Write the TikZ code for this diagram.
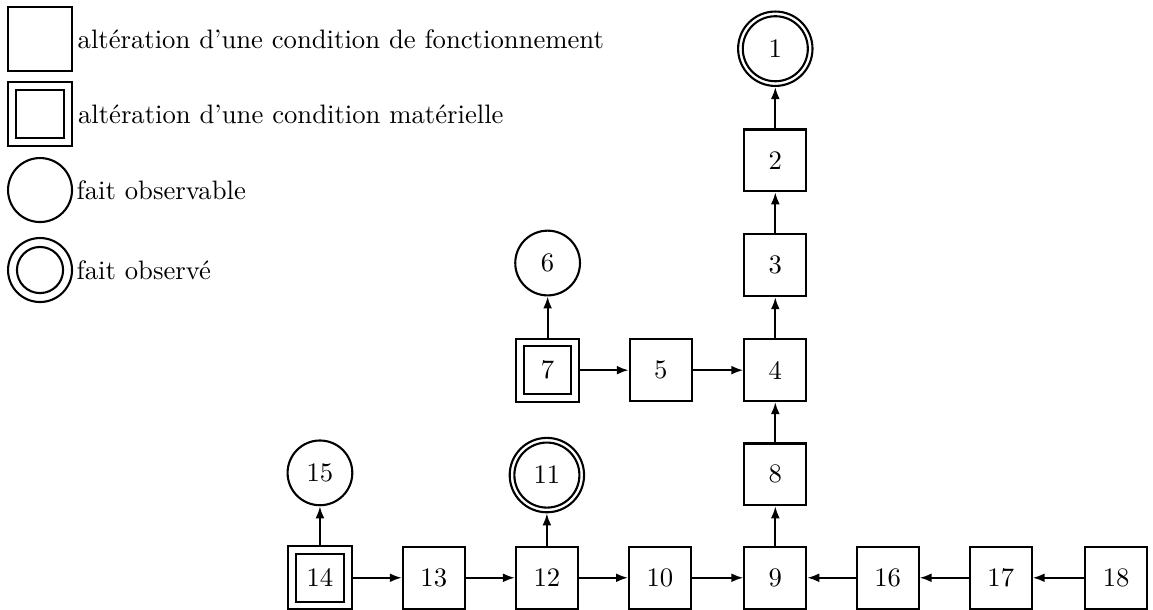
\documentclass[tikz,border=0pt]{standalone}
\usepackage{tikz}
\usetikzlibrary{positioning,arrows.meta}

\tikzset{
    >={Latex[length=4.6pt,width=3.4pt]},
    box/.style={draw, line width=0.8pt, minimum size=0.83cm, inner sep=0pt},
    matbox/.style={box, minimum size=0.85cm, path picture={
        \draw[line width=0.8pt] ([shift={(3pt,3pt)}]path picture bounding box.south west)
            rectangle ([shift={(-3pt,-3pt)}]path picture bounding box.north east);}},
    fact/.style={draw, circle, line width=0.8pt, minimum size=0.87cm, inner sep=0pt},
    seen/.style={fact, minimum size=1.0cm, path picture={
        \draw[line width=0.8pt] (path picture bounding box.center) circle (0.437cm);}},
    legtext/.style={inner sep=0pt, font=\fontsize{10.2}{12}\selectfont}
}

\begin{document}
\begin{tikzpicture}[line width=0.8pt, font=\fontsize{10.2}{12}\selectfont]
    \useasboundingbox (0,0) rectangle (15.496,8.185);

    % legend
    \node[box, minimum size=0.85cm] (lgbox) at (0.538,7.66) {};
    \node[legtext, right=1.5pt of lgbox] {altération d'une condition de fonctionnement};
    \node[matbox, minimum size=0.86cm] (lgmat) at (0.538,6.653) {};
    \node[legtext, right=1.5pt of lgmat] {altération d'une condition matérielle};
    \node[fact, minimum size=0.86cm] (lgfact) at (0.538,5.631) {};
    \node[legtext, right=1pt of lgfact] {fait observable};
    \node[fact, minimum size=0.86cm, path picture={
        \draw[line width=0.8pt] (path picture bounding box.center) circle (0.31cm);}] (lgseen) at (0.538,4.556) {};
    \node[legtext, right=1pt of lgseen] {fait observé};

    % main column
    \node[seen] (n1) at (10.42,7.53) {1};
    \node[box] (n2) at (10.42,6.03) {2};
    \node[box] (n3) at (10.42,4.62) {3};
    \node[box] (n4) at (10.42,3.21) {4};
    \node[box] (n8) at (10.42,1.81) {8};
    \node[box] (n9) at (10.42,0.42) {9};

    % middle branch
    \node[fact] (n6) at (7.36,4.65) {6};
    \node[matbox] (n7) at (7.36,3.21) {7};
    \node[box] (n5) at (8.88,3.21) {5};

    % bottom row
    \node[fact] (n15) at (4.30,1.83) {15};
    \node[seen] (n11) at (7.35,1.80) {11};
    \node[matbox] (n14) at (4.30,0.42) {14};
    \node[box] (n13) at (5.83,0.42) {13};
    \node[box] (n12) at (7.35,0.42) {12};
    \node[box] (n10) at (8.87,0.42) {10};
    \node[box] (n16) at (11.93,0.42) {16};
    \node[box] (n17) at (13.45,0.42) {17};
    \node[box] (n18) at (15.0,0.42) {18};

    % arrows
    \draw[->] (n2) -- (n1);
    \draw[->] (n3) -- (n2);
    \draw[->] (n4) -- (n3);
    \draw[->] (n8) -- (n4);
    \draw[->] (n9) -- (n8);
    \draw[->] (n7) -- (n6);
    \draw[->] (n7) -- (n5);
    \draw[->] (n5) -- (n4);
    \draw[->] (n14) -- (n15);
    \draw[->] (n14) -- (n13);
    \draw[->] (n13) -- (n12);
    \draw[->] (n12) -- (n11);
    \draw[->] (n12) -- (n10);
    \draw[->] (n10) -- (n9);
    \draw[->] (n16) -- (n9);
    \draw[->] (n17) -- (n16);
    \draw[->] (n18) -- (n17);
\end{tikzpicture}
\end{document}
